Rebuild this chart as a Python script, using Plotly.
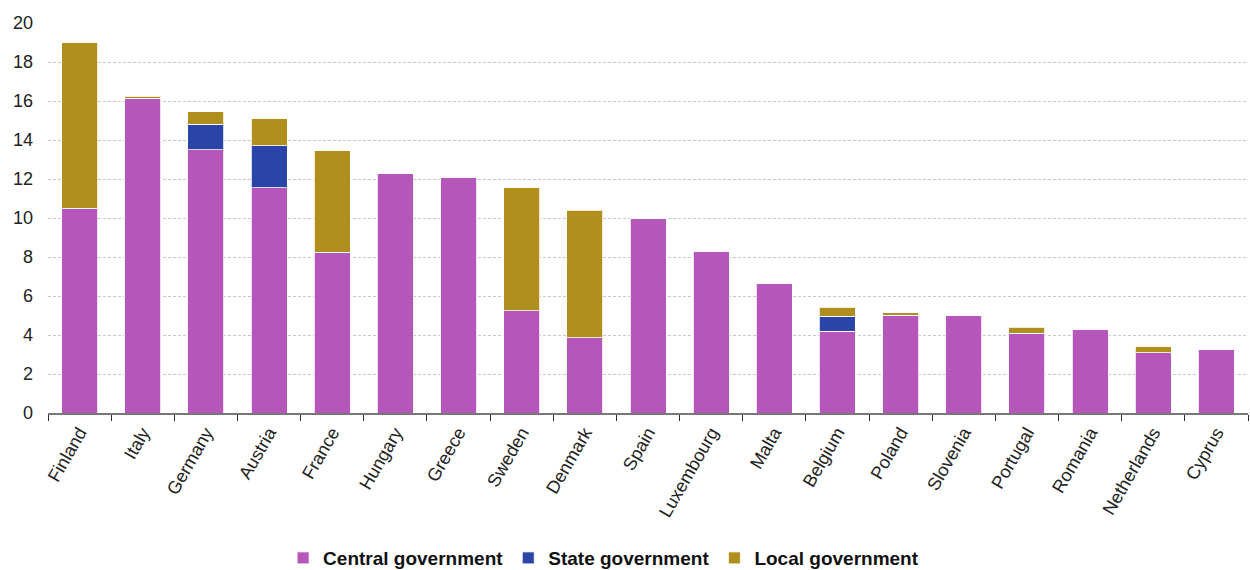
import plotly.graph_objects as go

countries = ["Finland", "Italy", "Germany", "Austria", "France", "Hungary", "Greece",
             "Sweden", "Denmark", "Spain", "Luxembourg", "Malta", "Belgium", "Poland",
             "Slovenia", "Portugal", "Romania", "Netherlands", "Cyprus"]
central = [10.5, 16.15, 13.5, 11.55, 8.25, 12.3, 12.1, 5.25, 3.85, 9.95, 8.3, 6.65,
           4.2, 5.02, 5.0, 4.1, 4.29, 3.09, 3.27]
state = [0, 0, 1.3, 2.15, 0, 0, 0, 0, 0, 0, 0, 0, 0.77, 0, 0, 0, 0, 0, 0]
local = [8.5, 0.1, 0.65, 1.4, 5.2, 0, 0, 6.3, 6.55, 0, 0, 0, 0.45, 0.11, 0, 0.31, 0, 0.31, 0]

series = [
    ("Central government", central, "#b656bb"),
    ("State government", state, "#2b44a8"),
    ("Local government", local, "#b08f1f"),
]

fig = go.Figure()
for name, vals, color in series:
    fig.add_trace(go.Bar(
        x=countries, y=vals, name=name,
        marker=dict(color=color, line=dict(color="rgba(255,255,255,0.8)", width=1)),
    ))

font = "Liberation Sans, Arial, sans-serif"
fig.update_layout(
    barmode="stack",
    bargap=0.43,
    width=1250, height=570,
    margin=dict(l=48, r=2, t=23, b=157, autoexpand=False),
    plot_bgcolor="white", paper_bgcolor="white",
    font=dict(family=font, size=16, color="#222"),
    showlegend=True,
    legend=dict(
        orientation="h", x=0.463, xanchor="center",
        yref="container", y=0.021, yanchor="middle",
        font=dict(family=font, size=19, color="#111", weight="bold"),
        itemwidth=30, traceorder="normal",
    ),
    xaxis=dict(
        type="category", tickangle=-60, tickson="boundaries", automargin=False,
        ticks="outside", ticklen=6, tickcolor="#333",
        showline=True, linecolor="#777", linewidth=2,
        showgrid=False, tickfont=dict(size=18, color="#222"),
    ),
    yaxis=dict(
        range=[0, 20], dtick=2, showgrid=True, gridcolor="#c8c8c8", automargin=False,
        griddash="3px,2px", gridwidth=1, zeroline=False,
        tickfont=dict(size=18, color="#222"), ticks="", ticklabelstandoff=14,
    ),
)

fig.write_html("out.html")
